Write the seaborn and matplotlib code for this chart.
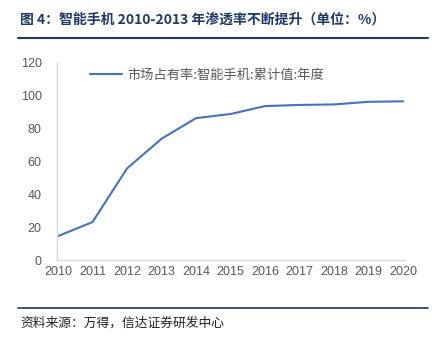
import matplotlib
matplotlib.use("Agg")
import matplotlib.pyplot as plt
import seaborn as sns
import pandas as pd
from matplotlib.lines import Line2D

years = [2010, 2011, 2012, 2013, 2014, 2015, 2016, 2017, 2018, 2019, 2020]
share = [14.5, 23.0, 55.5, 73.5, 86.0, 88.5, 93.3, 94.0, 94.3, 95.9, 96.2]
series_name = "市场占有率:智能手机:累计值:年度"
title_text = "图 4：智能手机 2010-2013 年渗透率不断提升（单位：%）"
source_text = "资料来源：万得，信达证券研发中心"
yticks = [0, 20, 40, 60, 80, 100, 120]

sns.set_style("white")
plt.rcParams['font.family'] = ['Liberation Sans', 'Noto Sans CJK SC', 'DejaVu Sans']

df = pd.DataFrame({"year": years, "value": share, "series": series_name})

fig = plt.figure(figsize=(4.4, 3.39), dpi=100)
ax = fig.add_axes([0.1295, 0.233, 0.7905, 0.584])

sns.lineplot(data=df, x="year", y="value", ax=ax, color="#4472C4", linewidth=1.5, legend=False)

ax.set_xlim(2009.97, 2020.05)
ax.set_ylim(0, 120)
ax.set_xticks(years)
ax.set_xticklabels([str(y) for y in years])
ax.set_yticks(yticks)
ax.set_xlabel("")
ax.set_ylabel("")
for s in ["top", "right"]:
    ax.spines[s].set_visible(False)
for s in ["left", "bottom"]:
    ax.spines[s].set_color("#D9D9D9")
    ax.spines[s].set_linewidth(1.0)
ax.tick_params(axis="both", length=0, labelsize=9, labelcolor="#595959")
ax.tick_params(axis="x", pad=4)
ax.tick_params(axis="y", pad=11)

handle = Line2D([], [], color="#4472C4", linewidth=1.5)
leg = ax.legend([handle], [series_name], loc="center left", bbox_to_anchor=(0.095, 0.934),
                frameon=False, handlelength=2.4, handletextpad=0.4, borderpad=0, borderaxespad=0,
                prop={"family": ["Noto Sans CJK SC", "DejaVu Sans"], "size": 9.5, "weight": "light"})
for t in leg.get_texts():
    t.set_color("#595959")

navy = "#1F3A68"
fig.text(20/440, 1 - 20/339, title_text, ha="left", va="center", fontsize=10,
         fontweight="bold", color=navy, family=["Noto Sans CJK SC", "DejaVu Sans"])
fig.add_artist(Line2D([18/440, 428/440], [1 - 38/339, 1 - 38/339], color=navy, linewidth=1.5))
fig.add_artist(Line2D([18/440, 428/440], [1 - 308/339, 1 - 308/339], color=navy, linewidth=1.2))
fig.text(20/440, 1 - 323/339, source_text, ha="left", va="center", fontsize=9.2,
         style="italic", color="#222222", family=["Noto Sans CJK SC", "DejaVu Sans"])

fig.savefig("out.png", dpi=100)
